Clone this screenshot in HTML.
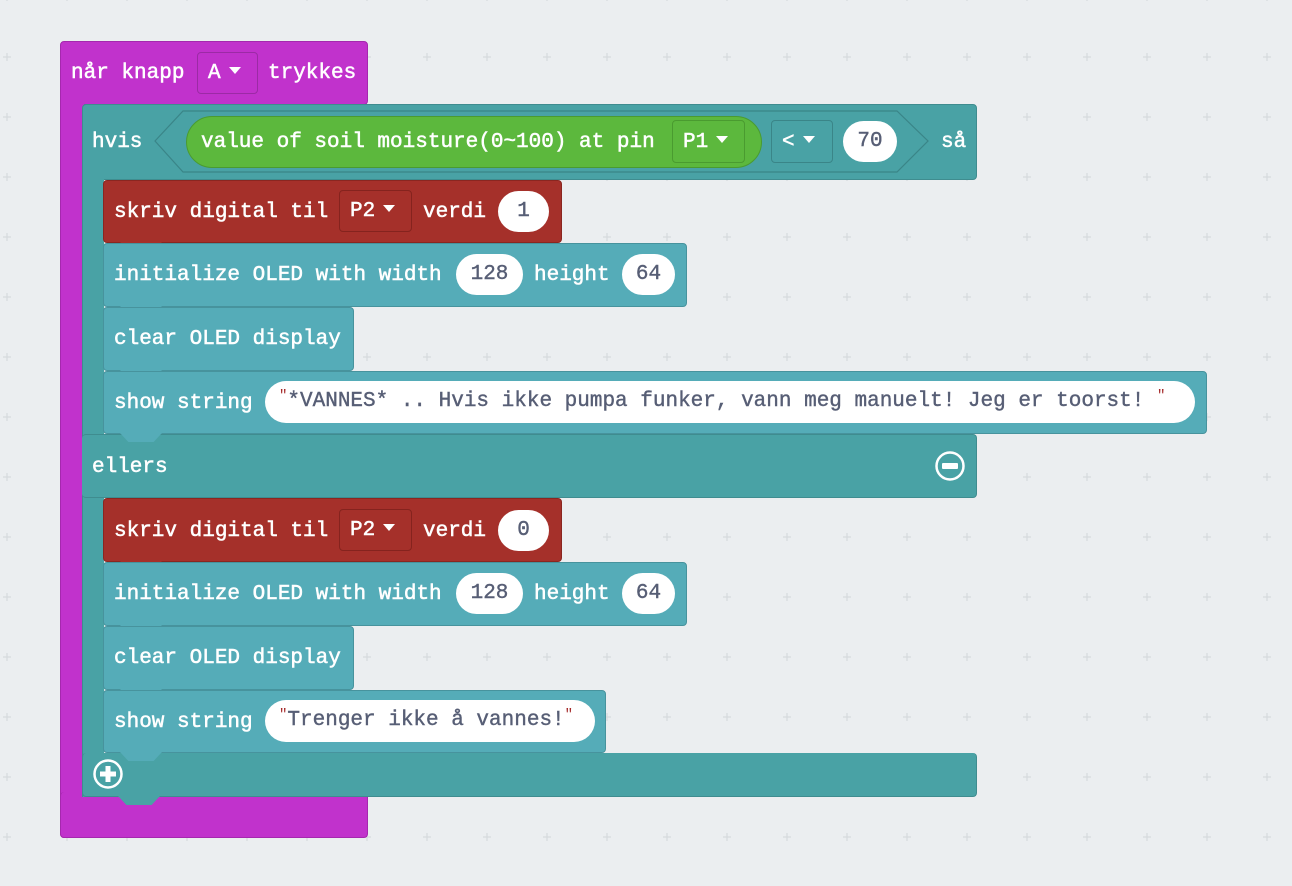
<!DOCTYPE html>
<html><head><meta charset="utf-8"><style>
body{margin:0;width:1292px;height:886px;overflow:hidden;background:#ebeef0;font-family:"Liberation Mono",monospace;}
.b{position:absolute;box-sizing:border-box;border-radius:4px;}
.t{position:absolute;color:#fff;font-size:21px;line-height:24px;white-space:pre;-webkit-text-stroke:0.5px #fff;}
.ov{position:absolute;box-sizing:border-box;background:#fff;border-radius:22px;color:#575e75;font-size:21px;text-align:center;white-space:pre;-webkit-text-stroke:0.4px #575e75;}
.dd{position:absolute;box-sizing:border-box;border-radius:4px;color:#fff;font-size:21px;white-space:pre;padding-left:10px;-webkit-text-stroke:0.5px #fff;}
.tri{display:inline-block;width:0;height:0;border-left:6px solid transparent;border-right:6px solid transparent;border-top:7px solid #fff;vertical-align:middle;margin-left:8px;position:relative;top:-2px;}
.tab{position:absolute;height:9px;width:42px;clip-path:polygon(0 0,100% 0,80% 100%,20% 100%);}
</style></head><body>
<svg width="1292" height="886" style="position:absolute;left:0;top:0">
<defs><pattern id="g" x="-23" y="27" width="60" height="60" patternUnits="userSpaceOnUse">
<path d="M30 26V34 M26 30H34" stroke="#d6dadd" stroke-width="1.2"/></pattern></defs>
<rect width="1292" height="886" fill="url(#g)"/>
</svg>

<!-- purple hat -->
<div class="b" style="left:60px;top:41px;width:308px;height:64px;background:#c132cc;border:1px solid #a528ae;"></div>
<div class="b" style="left:60px;top:100px;width:24px;height:738px;background:#c132cc;border-left:1px solid #a528ae;border-radius:0 0 0 4px;"></div>
<div class="b" style="left:60px;top:792px;width:308px;height:46px;background:#c132cc;border:1px solid #a528ae;border-top:none;"></div>
<div class="t" style="left:71px;top:62px;">når knapp</div>
<div class="dd" style="left:197px;top:52px;width:61px;height:42px;line-height:42px;border:1px solid #9c2aa5;">A<span class="tri"></span></div>
<div class="t" style="left:268px;top:62px;">trykkes</div>

<!-- if block -->
<div class="b" style="left:82px;top:104px;width:895px;height:76px;background:#49a2a5;border:1px solid #3f8c8f;"></div>
<div class="b" style="left:82px;top:175px;width:22px;height:622px;background:#49a2a5;border-left:1px solid #3f8c8f;border-radius:0;"></div>
<div class="b" style="left:82px;top:434px;width:895px;height:64px;background:#49a2a5;border:1px solid #3f8c8f;border-left:none;"></div>
<div class="b" style="left:82px;top:753px;width:895px;height:44px;background:#49a2a5;border:1px solid #3f8c8f;border-top:none;"></div>
<div class="tab" style="left:118px;top:796px;background:#49a2a5;"></div>
<div class="t" style="left:92px;top:131px;">hvis</div>
<svg width="1292" height="886" style="position:absolute;left:0;top:0">
<polygon points="155,141 183,111 897,111 928,141 897,172 183,172" fill="#49a2a5" stroke="#3a8588" stroke-width="1.2"/>
<circle cx="950" cy="466" r="13.5" fill="none" stroke="#fff" stroke-width="2.5"/>
<rect x="942" y="463" width="16" height="6" rx="1" fill="#fff"/>
<circle cx="108" cy="774" r="13.5" fill="none" stroke="#fff" stroke-width="2.5"/>
<path d="M108 766V782 M100 774H116" stroke="#fff" stroke-width="5"/>
</svg>
<div class="b" style="left:186px;top:116px;width:576px;height:52px;background:#5cb83d;border:1px solid #4a9b30;border-radius:26px;"></div>
<div class="t" style="left:201px;top:131px;">value of soil moisture(0~100) at pin</div>
<div class="dd" style="left:672px;top:120px;width:73px;height:43px;line-height:43px;border:1px solid #4a9b30;">P1<span class="tri"></span></div>
<div class="dd" style="left:771px;top:120px;width:62px;height:43px;line-height:43px;border:1px solid #3a8588;">&lt;<span class="tri"></span></div>
<div class="ov" style="left:843px;top:121px;width:54px;height:41px;line-height:41px;">70</div>
<div class="t" style="left:941px;top:131px;">så</div>
<div class="t" style="left:92px;top:456px;">ellers</div>

<!-- then branch -->
<div class="b" style="left:103px;top:180px;width:459px;height:63px;background:#a5302a;border:1px solid #8a2620;"></div>
<div class="tab" style="left:120px;top:242px;background:#a5302a;"></div>
<div class="t" style="left:114px;top:201px;">skriv digital til</div>
<div class="dd" style="left:339px;top:190px;width:73px;height:42px;line-height:42px;border:1px solid #85231e;">P2<span class="tri"></span></div>
<div class="t" style="left:423px;top:201px;">verdi</div>
<div class="ov" style="left:498px;top:191px;width:51px;height:41px;line-height:41px;">1</div>

<div class="b" style="left:103px;top:243px;width:584px;height:64px;background:#55acb8;border:1px solid #47939d;"></div>
<div class="tab" style="left:120px;top:306px;background:#55acb8;"></div>
<div class="t" style="left:114px;top:264px;">initialize OLED with width</div>
<div class="ov" style="left:456px;top:254px;width:67px;height:41px;line-height:41px;">128</div>
<div class="t" style="left:534px;top:264px;">height</div>
<div class="ov" style="left:622px;top:254px;width:53px;height:41px;line-height:41px;">64</div>

<div class="b" style="left:103px;top:307px;width:251px;height:64px;background:#55acb8;border:1px solid #47939d;"></div>
<div class="tab" style="left:120px;top:370px;background:#55acb8;"></div>
<div class="t" style="left:114px;top:328px;">clear OLED display</div>

<div class="b" style="left:103px;top:371px;width:1104px;height:63px;background:#55acb8;border:1px solid #47939d;"></div>
<div class="tab" style="left:120px;top:433px;background:#55acb8;"></div>
<div class="t" style="left:114px;top:392px;">show string</div>
<div class="ov" style="left:265px;top:381px;width:930px;height:42px;line-height:42px;text-align:left;padding-left:14px;"><span style="color:#a52a2a;font-size:14px;vertical-align:top;line-height:30px;-webkit-text-stroke:0;">"</span>*VANNES* .. Hvis ikke pumpa funker, vann meg manuelt! Jeg er toorst! <span style="color:#a52a2a;font-size:14px;vertical-align:top;line-height:30px;-webkit-text-stroke:0;">"</span></div>

<!-- else branch -->
<div class="b" style="left:103px;top:498px;width:459px;height:64px;background:#a5302a;border:1px solid #8a2620;"></div>
<div class="tab" style="left:120px;top:561px;background:#a5302a;"></div>
<div class="t" style="left:114px;top:520px;">skriv digital til</div>
<div class="dd" style="left:339px;top:509px;width:73px;height:42px;line-height:42px;border:1px solid #85231e;">P2<span class="tri"></span></div>
<div class="t" style="left:423px;top:520px;">verdi</div>
<div class="ov" style="left:498px;top:510px;width:51px;height:41px;line-height:41px;">0</div>

<div class="b" style="left:103px;top:562px;width:584px;height:64px;background:#55acb8;border:1px solid #47939d;"></div>
<div class="tab" style="left:120px;top:625px;background:#55acb8;"></div>
<div class="t" style="left:114px;top:583px;">initialize OLED with width</div>
<div class="ov" style="left:456px;top:573px;width:67px;height:41px;line-height:41px;">128</div>
<div class="t" style="left:534px;top:583px;">height</div>
<div class="ov" style="left:622px;top:573px;width:53px;height:41px;line-height:41px;">64</div>

<div class="b" style="left:103px;top:626px;width:251px;height:64px;background:#55acb8;border:1px solid #47939d;"></div>
<div class="tab" style="left:120px;top:689px;background:#55acb8;"></div>
<div class="t" style="left:114px;top:647px;">clear OLED display</div>

<div class="b" style="left:103px;top:690px;width:503px;height:63px;background:#55acb8;border:1px solid #47939d;"></div>
<div class="tab" style="left:120px;top:752px;background:#55acb8;"></div>
<div class="t" style="left:114px;top:711px;">show string</div>
<div class="ov" style="left:265px;top:700px;width:330px;height:42px;line-height:42px;text-align:left;padding-left:14px;"><span style="color:#a52a2a;font-size:14px;vertical-align:top;line-height:30px;-webkit-text-stroke:0;">"</span>Trenger ikke å vannes!<span style="color:#a52a2a;font-size:14px;vertical-align:top;line-height:30px;-webkit-text-stroke:0;">"</span></div>
</body></html>
